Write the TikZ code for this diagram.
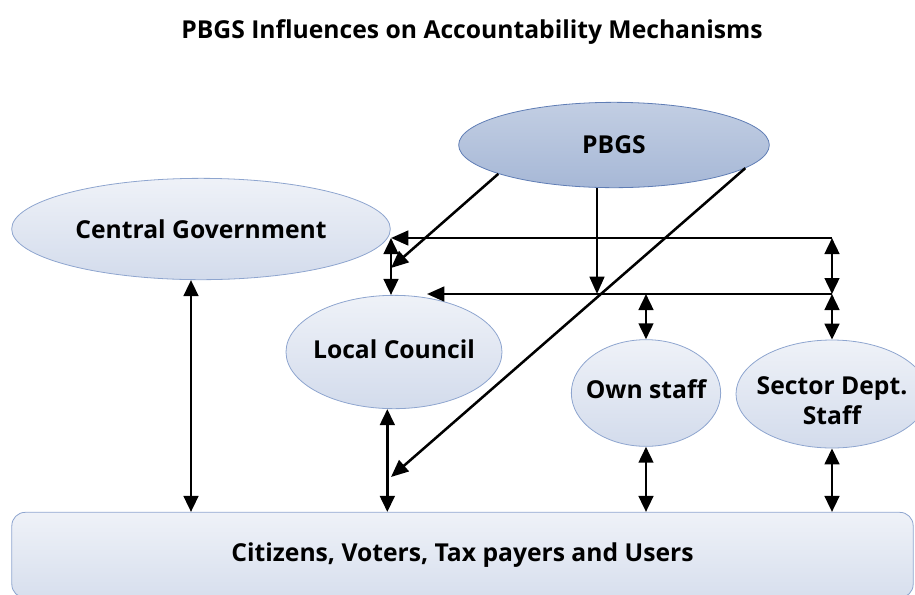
\documentclass[tikz,border=0pt]{standalone}
\usepackage{fontspec}
\setmainfont{Open Sans}
\usetikzlibrary{shapes.geometric,arrows.meta}

\definecolor{ellfill}{HTML}{E4E9F3}
\definecolor{ellline}{HTML}{8EA5CF}
\definecolor{topfill}{HTML}{B3C2DC}
\definecolor{topline}{HTML}{5F7DB5}

\tikzset{
  lbl/.style={font=\bfseries\fontsize{18.5}{23}\selectfont, align=center, inner sep=0pt},
  ell/.style={ellipse, draw=ellline, line width=0.6pt, inner sep=0pt,
    top color=ellfill!60!white, middle color=ellfill, bottom color=ellfill!80!ellline},
  topell/.style={ellipse, draw=topline, line width=0.6pt, inner sep=0pt,
    top color=topfill!80!white, middle color=topfill, bottom color=topfill!85!topline},
  citbox/.style={lbl, rectangle, rounded corners=10pt, draw=ellline, line width=0.6pt,
    top color=ellfill!60!white, middle color=ellfill, bottom color=ellfill!85!ellline},
  arr/.style={line width=1.9pt, -{Triangle[length=13pt,width=11pt]}},
  dbl/.style={line width=1.9pt, {Triangle[length=12pt,width=11pt]}-{Triangle[length=12pt,width=11pt]}}
}

\begin{document}
\begin{tikzpicture}[x=0.75pt,y=-0.75pt]
\useasboundingbox (0,0) rectangle (915,594);

\node[lbl] (title) at (472,32) {PBGS Influences on Accountability Mechanisms};

% nodes
\node[topell, minimum width=233pt, minimum height=64pt, label={[lbl]center:PBGS}] (pbgs) at (614,145) {};
\node[ell, minimum width=284pt, minimum height=76pt, label={[lbl]center:Central Government}] (cgov) at (201,229) {};
\node[ell, minimum width=162pt, minimum height=85pt, label={[lbl, yshift=2pt]center:Local Council}] (lc) at (394,352) {};
\node[ell, minimum width=112pt, minimum height=80pt, label={[lbl, yshift=3pt]center:Own staff}] (own) at (646,393) {};
\node[ell, minimum width=144pt, minimum height=81pt, label={[lbl, yshift=-5pt]center:Sector Dept.\\Staff}] (sect) at (832,394) {};
\begin{scope}
\clip (0,0) rectangle (915,594);
\node[citbox, minimum width=676pt, minimum height=64pt] (cit) at (462.5,555) {Citizens, Voters, Tax payers and Users};
\end{scope}

% junctions
\coordinate (r1) at (832,238);
\coordinate (r2) at (832,294);
\coordinate (m) at (597,294);
\coordinate (t1) at (391,238);
\coordinate (t2) at (427,294);
\coordinate (t3) at (391,268);
\coordinate (t4) at (391,477);

% PBGS influences
\draw[arr] (pbgs.194) -- (t3);
\draw[arr] (pbgs.south -| m) -- (m);
\draw[arr] (pbgs.350) -- (t4);

\draw[arr] (r1) -- (t1);
\draw[arr] (r2) -- (t2);
\draw[dbl] (r1) -- (r2);
\draw[dbl] (r2) -- (sect.north -| r2);
\draw[dbl] (own.north |- r2) -- (own.north);
\draw[dbl] (t1) -- (lc.north -| t1);

% links to citizens
\draw[dbl] ([xshift=-7.5pt]cgov.south) -- ([xshift=-7.5pt]cgov.south |- cit.north);
\draw[dbl] ([xshift=-5pt]lc.south) -- ([xshift=-5pt]lc.south |- cit.north);
\draw[dbl] (own.south) -- (own.south |- cit.north);
\draw[dbl] (sect.south) -- (sect.south |- cit.north);

\end{tikzpicture}
\end{document}
